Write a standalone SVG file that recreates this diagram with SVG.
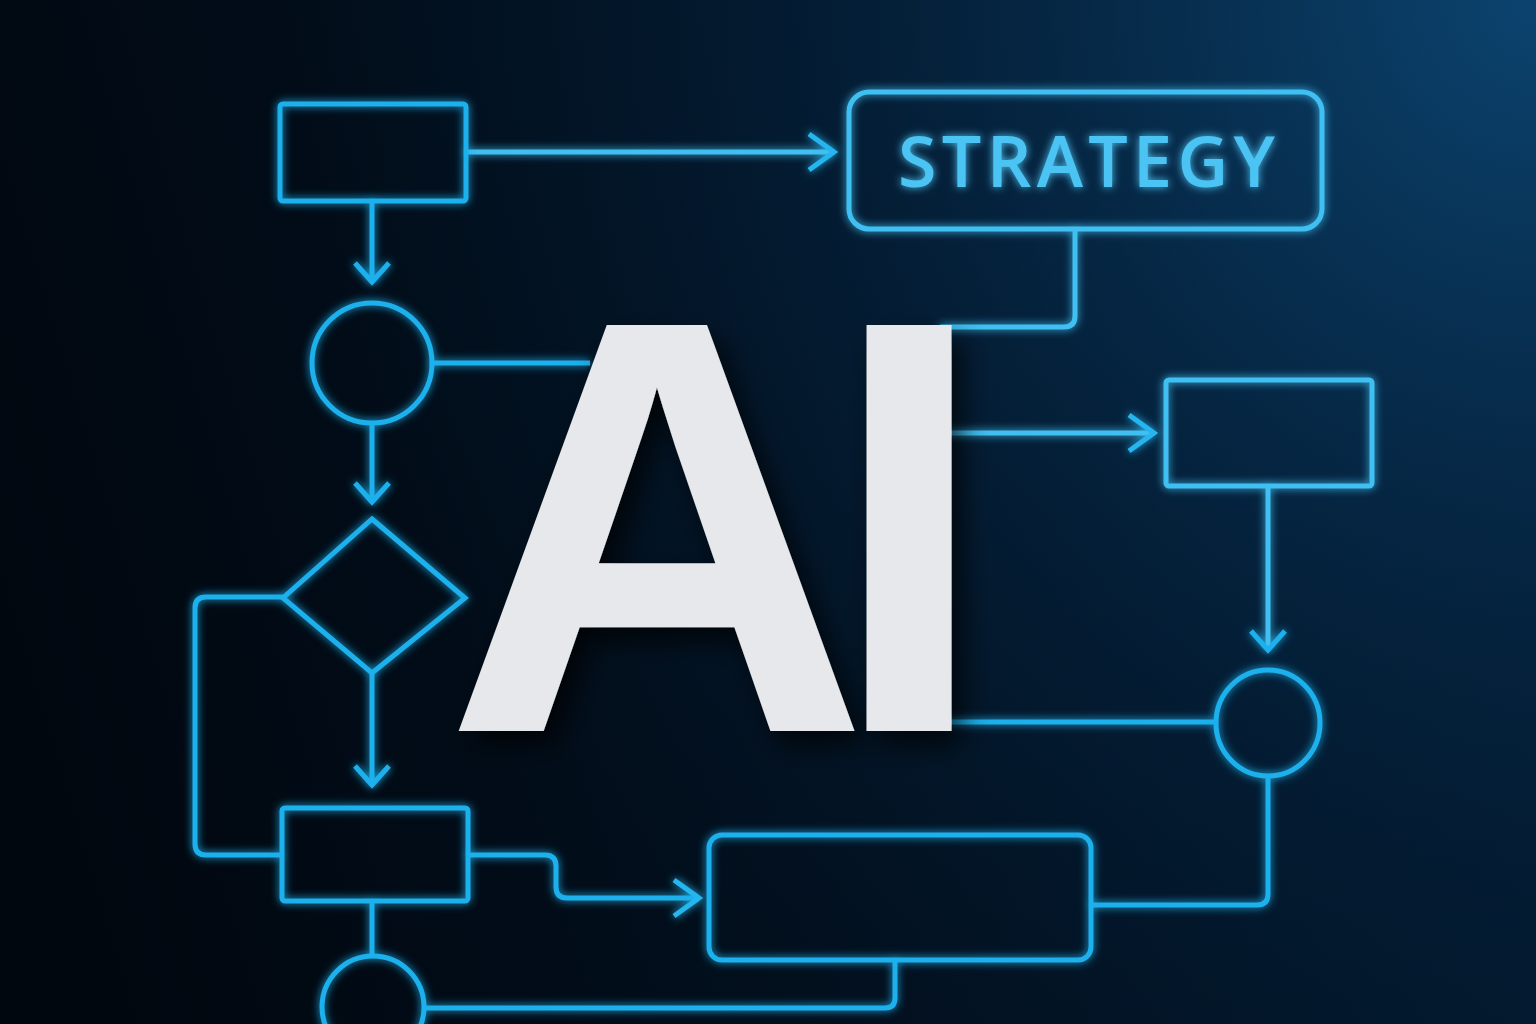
<svg xmlns="http://www.w3.org/2000/svg" width="1536" height="1024" viewBox="0 0 1536 1024">
<defs>
<linearGradient id="bg" x1="0" y1="0.6" x2="1" y2="0.4">
<stop offset="0" stop-color="#01070f"/>
<stop offset="1" stop-color="#031a30"/>
</linearGradient>
<radialGradient id="glow" gradientUnits="userSpaceOnUse" cx="1536" cy="0" r="1250">
<stop offset="0" stop-color="#0c4673" stop-opacity="0.95"/>
<stop offset="0.5" stop-color="#062a4a" stop-opacity="0.55"/>
<stop offset="1" stop-color="#031a30" stop-opacity="0"/>
</radialGradient>
<filter id="neon" x="-20%" y="-20%" width="140%" height="140%">
<feGaussianBlur in="SourceGraphic" stdDeviation="4" result="b"/>
<feMerge><feMergeNode in="b"/><feMergeNode in="SourceGraphic"/></feMerge>
</filter>
<filter id="shadow" x="-20%" y="-20%" width="150%" height="150%">
<feDropShadow dx="10" dy="14" stdDeviation="14" flood-color="#000000" flood-opacity="0.75"/>
</filter>
<marker id="chev" viewBox="-30 -30 60 60" refX="0" refY="0" markerWidth="60" markerHeight="60" markerUnits="userSpaceOnUse" orient="auto">
<path d="M-25,-18 L0,0 L-25,18" fill="none" stroke="#27b6ef" stroke-width="5" stroke-linejoin="miter"/>
</marker>
<marker id="chevd" viewBox="-30 -30 60 60" refX="0" refY="0" markerWidth="60" markerHeight="60" markerUnits="userSpaceOnUse" orient="auto">
<path d="M-19,-17 L0,0 L-19,17" fill="none" stroke="#1eb0ec" stroke-width="5" stroke-linejoin="miter"/>
</marker>
</defs>
<style>
.ln{fill:none;stroke:#1eb0ec;stroke-width:5;stroke-linejoin:round}
.nd{fill:none;stroke:#1eb0ec;stroke-width:5}
.lt{stroke:#3fc0f2}
.lbl{font-family:"Open Sans","Noto Sans","Liberation Sans",sans-serif;font-weight:600;font-size:70px;fill:#4cc4f4}
.big{font-family:"Liberation Sans",Arial,sans-serif;font-weight:bold;font-size:590px;fill:#e6e8eb;letter-spacing:-43px}
</style>
<rect width="1536" height="1024" fill="url(#bg)"/>
<rect width="1536" height="1024" fill="url(#glow)"/>

<g id="connectors" filter="url(#neon)">
<path class="ln lt" d="M466,152 H834" marker-end="url(#chev)"/>
<path class="ln" d="M372,201 V282" marker-end="url(#chevd)"/>
<path class="ln" d="M432,363 H590"/>
<path class="ln" d="M372,423 V502" marker-end="url(#chevd)"/>
<path class="ln" d="M283,597 H206 Q195,597 195,608 V844 Q195,855 206,855 H281"/>
<path class="ln" d="M372,672 V785" marker-end="url(#chevd)"/>
<path class="ln" d="M468,855 H545 Q556,855 556,866 V887 Q556,898 567,898 H699" marker-end="url(#chev)"/>
<path class="ln" d="M372,901 V955"/>
<path class="ln" d="M895,960 V998 Q895,1008 885,1008 H425"/>
<path class="ln lt" d="M1075,229 V316 Q1075,327 1064,327 H940"/>
<path class="ln lt" d="M940,433 H1154" marker-end="url(#chev)"/>
<path class="ln lt" d="M1268,486 V650" marker-end="url(#chevd)"/>
<path class="ln" d="M940,722 H1215"/>
<path class="ln" d="M1268,776 V894 Q1268,905 1257,905 H1091"/>
</g>

<g id="n-topbox" filter="url(#neon)"><rect class="nd" x="280" y="104" width="186" height="97" rx="3"/></g>
<g id="n-strategy" filter="url(#neon)">
<rect class="nd lt" x="849" y="92" width="473" height="137" rx="20"/>
<text class="lbl" x="898" y="187" textLength="377" lengthAdjust="spacing">STRATEGY</text>
</g>
<g id="n-circle1" filter="url(#neon)"><circle class="nd" cx="372" cy="363" r="60"/></g>
<g id="n-diamond" filter="url(#neon)"><polygon class="nd" points="372,519 465,598 372,673 283,598" stroke-linejoin="miter"/></g>
<g id="n-box3" filter="url(#neon)"><rect class="nd" x="282" y="808" width="186" height="93" rx="3"/></g>
<g id="n-circle3" filter="url(#neon)"><circle class="nd" cx="373" cy="1007" r="51"/></g>
<g id="n-widebox" filter="url(#neon)"><rect class="nd" x="709" y="835" width="382" height="125" rx="13"/></g>
<g id="n-rightbox" filter="url(#neon)"><rect class="nd lt" x="1166" y="380" width="206" height="106" rx="3"/></g>
<g id="n-circle2" filter="url(#neon)"><ellipse class="nd" cx="1268" cy="723" rx="52" ry="53"/></g>

<g id="ai" filter="url(#shadow)">
<text class="big" x="444" y="731">AI</text>
</g>
</svg>
